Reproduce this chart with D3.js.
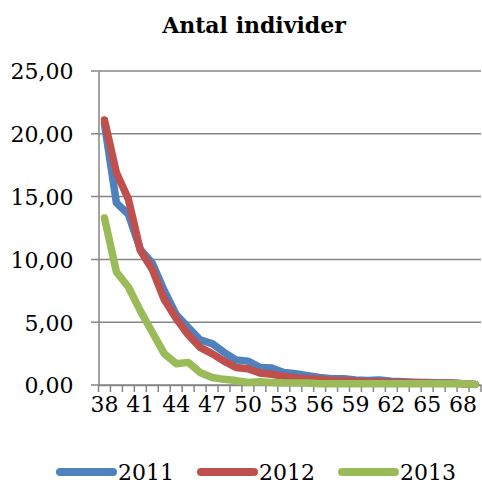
<!DOCTYPE html>
<html><head><meta charset="utf-8">
<script src="https://cdn.jsdelivr.net/npm/d3@7"></script>
<style>body{margin:0;background:#fff}svg{display:block}</style>
</head><body>
<script>
const categories = d3.range(38, 70).map(String);
const seriesNames = ["2011", "2012", "2013"];
const values2011 = [20.8,14.5,13.6,10.8,9.7,7.5,5.6,4.6,3.6,3.3,2.6,2.0,1.9,1.4,1.35,1.0,0.9,0.75,0.6,0.5,0.5,0.4,0.35,0.4,0.3,0.25,0.2,0.2,0.15,0.15,0.1,0.05];
const values2012 = [21.1,16.9,14.8,10.7,9.2,6.8,5.3,4.0,3.0,2.5,1.9,1.4,1.3,0.95,0.85,0.7,0.55,0.5,0.45,0.35,0.35,0.3,0.25,0.25,0.2,0.2,0.2,0.15,0.15,0.15,0.1,0.05];
const values2013 = [13.3,9.0,7.8,5.9,4.2,2.5,1.7,1.8,1.0,0.6,0.45,0.35,0.2,0.25,0.2,0.15,0.15,0.15,0.1,0.1,0.1,0.1,0.1,0.1,0.1,0.1,0.1,0.1,0.1,0.1,0.1,0.05];
const yTicks = [0,5,10,15,20,25];
const xLabels = ["38","41","44","47","50","53","56","59","62","65","68"];
const colors = ["#4F81BD", "#C0504D", "#9BBB59"];
const title = "Antal individer";

const W = 482, H = 486;
const font = "'DejaVu Serif', serif";
const svg = d3.select("body").append("svg").attr("width", W).attr("height", H);

const x = d3.scaleBand().domain(categories).range([98.5, 481]).padding(0);
const y = d3.scaleLinear().domain([0, 25]).range([385, 71]);
const fmt = v => d3.format(".2f")(v).replace(".", ",");

// gridlines
svg.append("g").selectAll("line").data(yTicks).join("line")
  .attr("x1", 91).attr("x2", 481)
  .attr("y1", d => y(d)).attr("y2", d => y(d))
  .attr("stroke", "#868686").attr("stroke-width", 1.5);

// y axis
const yAxis = svg.append("g").attr("transform", "translate(98.5,0)")
  .call(d3.axisLeft(y).tickValues(yTicks).tickFormat(fmt).tickSize(0).tickPadding(25));
yAxis.select(".domain").attr("stroke", "#868686").attr("stroke-width", 1.5);
yAxis.selectAll("text").attr("font-family", font).attr("font-size", 22).attr("fill", "#000").attr("dy", "0.36em");

// x axis
const xAxis = svg.append("g").attr("transform", "translate(0,385)")
  .call(d3.axisBottom(x).tickValues(xLabels).tickSize(0).tickPadding(26));
xAxis.select(".domain").attr("stroke", "#868686").attr("stroke-width", 1.5);
xAxis.selectAll("text").attr("font-family", font).attr("font-size", 22).attr("fill", "#000").attr("dy", "0.05em");
// category boundary tick marks
svg.append("g").selectAll("line").data(categories.concat(["end"])).join("line")
  .attr("x1", (d, i) => x.range()[0] + i * x.step())
  .attr("x2", (d, i) => x.range()[0] + i * x.step())
  .attr("y1", 385).attr("y2", 392)
  .attr("stroke", "#868686").attr("stroke-width", 1.5);

// lines
const allSeries = [values2011, values2012, values2013];
const line = d3.line().x((d, i) => x(categories[i]) + x.bandwidth() / 2).y(d => y(d));
svg.append("g").selectAll("path").data(allSeries).join("path")
  .attr("d", line)
  .attr("fill", "none")
  .attr("stroke", (d, i) => colors[i])
  .attr("stroke-width", 7.5)
  .attr("stroke-linejoin", "round")
  .attr("stroke-linecap", "round");

// title
svg.append("text").attr("x", 254).attr("y", 33).attr("text-anchor", "middle")
  .attr("font-family", font).attr("font-weight", "bold").attr("font-size", 22).text(title);

// legend
const legendX = [56, 197, 338];
const lg = svg.append("g").selectAll("g").data(seriesNames).join("g")
  .attr("transform", (d, i) => `translate(${legendX[i]},472)`);
lg.append("line").attr("x1", 4).attr("x2", 57).attr("y1", 0).attr("y2", 0)
  .attr("stroke", (d, i) => colors[i]).attr("stroke-width", 8).attr("stroke-linecap", "round");
lg.append("text").attr("x", 62).attr("y", 8).attr("font-family", font).attr("font-size", 22)
  .attr("fill", "#000").text(d => d);
</script>
</body></html>
